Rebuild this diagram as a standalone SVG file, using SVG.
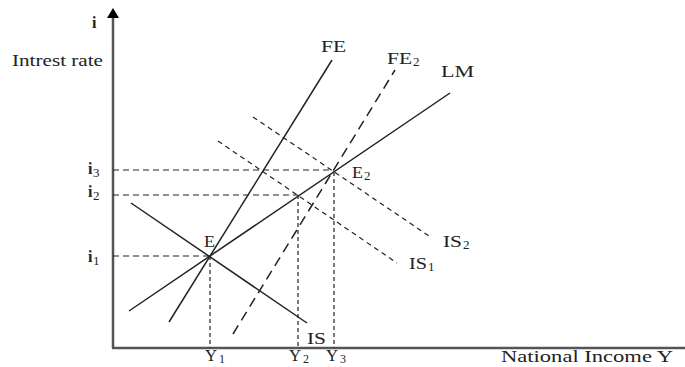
<svg xmlns="http://www.w3.org/2000/svg" width="685" height="367" viewBox="0 0 685 367">
<style>
text{font-family:"Liberation Serif","Times New Roman",serif;font-size:16px;fill:#222}
.b{font-weight:bold}
.sub{font-size:13px}
.ys{font-size:12px}
.ax{stroke:#555;stroke-width:2.5;fill:none}
.s{stroke:#222;stroke-width:1.5;fill:none}
.dh{stroke:#222;stroke-width:1.2;stroke-dasharray:6 4;fill:none}
.dv{stroke:#222;stroke-width:1.2;stroke-dasharray:4 3;fill:none}
.dl{stroke:#222;stroke-width:1.5;stroke-dasharray:10 6;fill:none}
.di{stroke:#222;stroke-width:1.2;stroke-dasharray:5 4;fill:none}
</style>
<rect width="685" height="367" fill="#fff"/>
<g id="axes">
<line class="ax" x1="113" y1="16" x2="113" y2="348"/>
<line class="ax" x1="112" y1="348" x2="685" y2="348"/>
<polygon points="113,8 107,18 119,18" fill="#000"/>
<text class="b" x="92" y="28">i</text>
<text x="12" y="66" textLength="91" lengthAdjust="spacingAndGlyphs">Intrest rate</text>
<text x="501" y="362" textLength="172" lengthAdjust="spacingAndGlyphs">National Income Y</text>
</g>
<g id="connectors">
<line class="dh" x1="113" y1="170" x2="334" y2="170"/>
<line class="dh" x1="113" y1="195" x2="298" y2="195"/>
<line class="dh" x1="113" y1="256" x2="210" y2="256"/>
<line class="dv" x1="210" y1="256" x2="210" y2="348"/>
<line class="dv" x1="298" y1="195" x2="298" y2="348"/>
<line class="dv" x1="334" y1="172" x2="334" y2="348"/>
</g>
<g id="FE">
<line class="s" x1="169" y1="322" x2="332" y2="60"/>
<text x="321" y="52" textLength="25" lengthAdjust="spacingAndGlyphs">FE</text>
</g>
<g id="FE2">
<line class="dl" x1="233" y1="334" x2="395" y2="70"/>
<text x="387" y="64" textLength="25" lengthAdjust="spacingAndGlyphs">FE</text>
<text class="sub" x="413" y="66">2</text>
</g>
<g id="LM">
<line class="s" x1="129" y1="311" x2="450" y2="93"/>
<text x="441" y="77" textLength="33" lengthAdjust="spacingAndGlyphs">LM</text>
</g>
<g id="IS">
<line class="s" x1="131" y1="203" x2="307" y2="323"/>
<text x="307" y="344" textLength="19" lengthAdjust="spacingAndGlyphs">IS</text>
</g>
<g id="IS1">
<line class="di" x1="218" y1="141" x2="397" y2="263"/>
<text x="409" y="269" textLength="18" lengthAdjust="spacingAndGlyphs">IS</text>
<text class="sub" x="428" y="271">1</text>
</g>
<g id="IS2">
<line class="di" x1="253" y1="117" x2="432" y2="238"/>
<text x="443" y="247" textLength="19" lengthAdjust="spacingAndGlyphs">IS</text>
<text class="sub" x="463" y="249">2</text>
</g>
<g id="E">
<text x="204" y="247" textLength="11" lengthAdjust="spacingAndGlyphs">E</text>
</g>
<g id="E2">
<text x="352" y="178" textLength="11" lengthAdjust="spacingAndGlyphs">E</text>
<text class="sub" x="364" y="180">2</text>
</g>
<g id="i-labels">
<text class="b" x="88" y="174">i</text><text class="sub" x="93" y="177">3</text>
<text class="b" x="88" y="197">i</text><text class="sub" x="93" y="200">2</text>
<text class="b" x="88" y="262">i</text><text class="sub" x="93" y="265">1</text>
</g>
<g id="Y-labels">
<text x="205" y="361" textLength="12" lengthAdjust="spacingAndGlyphs">Y</text><text class="ys" x="219" y="363">1</text>
<text x="289" y="361" textLength="12" lengthAdjust="spacingAndGlyphs">Y</text><text class="ys" x="303" y="363">2</text>
<text x="326" y="361" textLength="12" lengthAdjust="spacingAndGlyphs">Y</text><text class="ys" x="340" y="363">3</text>
</g>
</svg>
